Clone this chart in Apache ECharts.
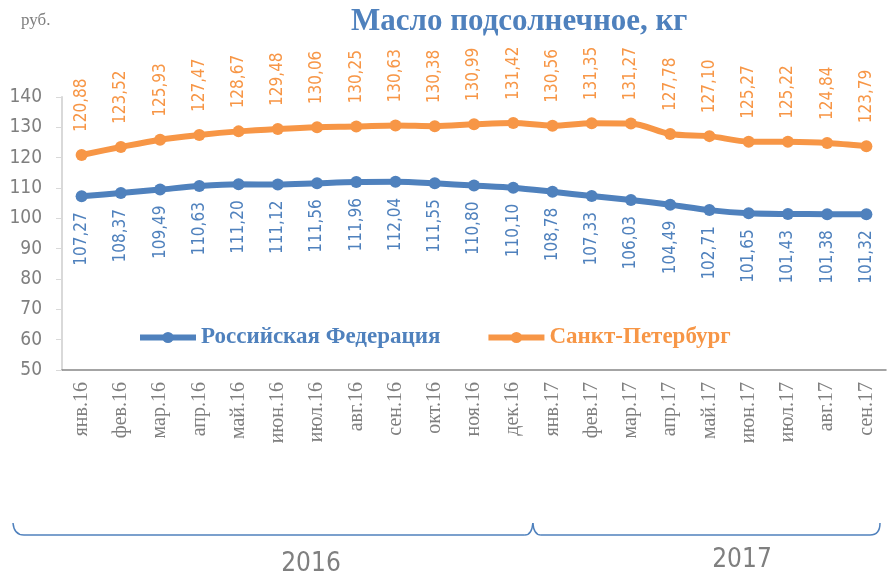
<!DOCTYPE html>
<html>
<head>
<meta charset="utf-8">
<script src="https://cdn.jsdelivr.net/npm/echarts@6/dist/echarts.min.js"></script>
<style>
  html, body { margin: 0; padding: 0; background: #fff; }
  #main { width: 887px; height: 577px; }
</style>
</head>
<body>
<div id="main"></div>
<script>
// месяцы
var months = ['янв.16','фев.16','мар.16','апр.16','май.16','июн.16','июл.16','авг.16','сен.16','окт.16','ноя.16','дек.16',
              'янв.17','фев.17','мар.17','апр.17','май.17','июн.17','июл.17','авг.17','сен.17'];
// Российская Федерация
var rfData = [107.27,108.37,109.49,110.63,111.20,111.12,111.56,111.96,112.04,111.55,110.80,110.10,
              108.78,107.33,106.03,104.49,102.71,101.65,101.43,101.38,101.32];
// Санкт-Петербург
var spbData = [120.88,123.52,125.93,127.47,128.67,129.48,130.06,130.25,130.63,130.38,130.99,131.42,
               130.56,131.35,131.27,127.78,127.10,125.27,125.22,124.84,123.79];
var years = ['2016', '2017'];

var narrow = "'DejaVu Sans Condensed', 'Liberation Sans Narrow', 'Roboto Condensed', sans-serif";
var serif = "'Liberation Serif', 'DejaVu Serif', serif";
var blue = '#4f81bd', orange = '#f79646', grey = '#7f7f7f';

function fmt(p){
    return p.value.toFixed(2).replace('.', ',');
}

var myChart = echarts.init(document.getElementById('main'));
var option = {
    animation: false,
    title: [{
        text: 'Масло подсолнечное, кг',
        left: 346, top: 1,
        textStyle: { fontFamily: serif, fontWeight: 'bold', fontSize: 31, color: blue }
    }, {
        text: 'руб.',
        left: 16, top: 7,
        textStyle: { fontFamily: serif, fontWeight: 'normal', fontSize: 17, color: grey }
    }],
    legend: {
        left: 132, top: 321,
        itemWidth: 56, itemHeight: 14, itemGap: 45,
        lineStyle: { width: 6 },
        textStyle: { fontFamily: serif, fontWeight: 'bold', fontSize: 23 },
        data: [
            { name: 'Российская Федерация', textStyle: { color: blue } },
            { name: 'Санкт-Петербург', textStyle: { color: orange } }
        ]
    },
    grid: { left: 62, right: 1, top: 97, bottom: 207, containLabel: false },
    xAxis: {
        type: 'category',
        data: months,
        boundaryGap: true,
        axisLine: { lineStyle: { color: '#868686', width: 1.5 } },
        axisTick: { length: 5, lineStyle: { color: '#868686', width: 1.5 } },
        axisLabel: { rotate: 90, interval: 0, margin: 12, color: grey, fontFamily: serif, fontSize: 20 }
    },
    yAxis: {
        type: 'value',
        min: 50, max: 140, interval: 10,
        splitLine: { show: false },
        axisLine: { show: true, lineStyle: { color: '#d9d9d9', width: 2 } },
        axisTick: { show: true, length: 6, lineStyle: { color: '#d9d9d9' } },
        axisLabel: { margin: 20, color: grey, fontFamily: narrow, fontSize: 19 }
    },
    series: [{
        name: 'Российская Федерация',
        type: 'line',
        data: rfData,
        smooth: 0.3,
        symbol: 'circle', symbolSize: 12,
        lineStyle: { color: blue, width: 6 },
        itemStyle: { color: blue },
        label: {
            show: true, position: 'bottom', distance: 10, rotate: 90,
            align: 'right', verticalAlign: 'middle',
            color: blue, fontFamily: narrow, fontSize: 17, formatter: fmt
        }
    }, {
        name: 'Санкт-Петербург',
        type: 'line',
        data: spbData,
        smooth: 0.3,
        symbol: 'circle', symbolSize: 12,
        lineStyle: { color: orange, width: 6 },
        itemStyle: { color: orange },
        label: {
            show: true, position: 'top', distance: 17, rotate: 90,
            align: 'left', verticalAlign: 'middle',
            color: orange, fontFamily: narrow, fontSize: 17, formatter: fmt
        }
    }]
};
myChart.setOption(option);

// скобки по годам
var x11 = myChart.convertToPixel({ xAxisIndex: 0 }, 11);
var x12 = myChart.convertToPixel({ xAxisIndex: 0 }, 12);
var x20 = myChart.convertToPixel({ xAxisIndex: 0 }, 20);
var mid = (x11 + x12) / 2;
var step = x12 - x11;
var endX = x20 + step / 2 - 6;
var yb = 535, yt = 523;
var bstyle = { stroke: blue, lineWidth: 1.5, fill: null };
function curve(x1, y1, cx, cy, x2, y2){
    return { type: 'bezierCurve', shape: { x1: x1, y1: y1, x2: x2, y2: y2, cpx1: cx, cpy1: cy }, style: bstyle };
}
function seg(x1, y1, x2, y2){
    return { type: 'line', shape: { x1: x1, y1: y1, x2: x2, y2: y2 }, style: bstyle };
}
myChart.setOption({
    graphic: [
        curve(13, yt, 14, yb, 24, yb),
        seg(24, yb, mid - 8, yb),
        curve(mid - 8, yb, mid - 1, yb, mid, yt),
        curve(mid, yt, mid + 1, yb, mid + 8, yb),
        seg(mid + 8, yb, endX - 10, yb),
        curve(endX - 10, yb, endX, yb, endX, yt),
        { type: 'text', x: 311, y: 564, style: { text: years[0], fill: grey, font: '26px ' + narrow, textAlign: 'center', textVerticalAlign: 'middle' } },
        { type: 'text', x: 742, y: 560, style: { text: years[1], fill: grey, font: '26px ' + narrow, textAlign: 'center', textVerticalAlign: 'middle' } }
    ]
});
</script>
</body>
</html>
